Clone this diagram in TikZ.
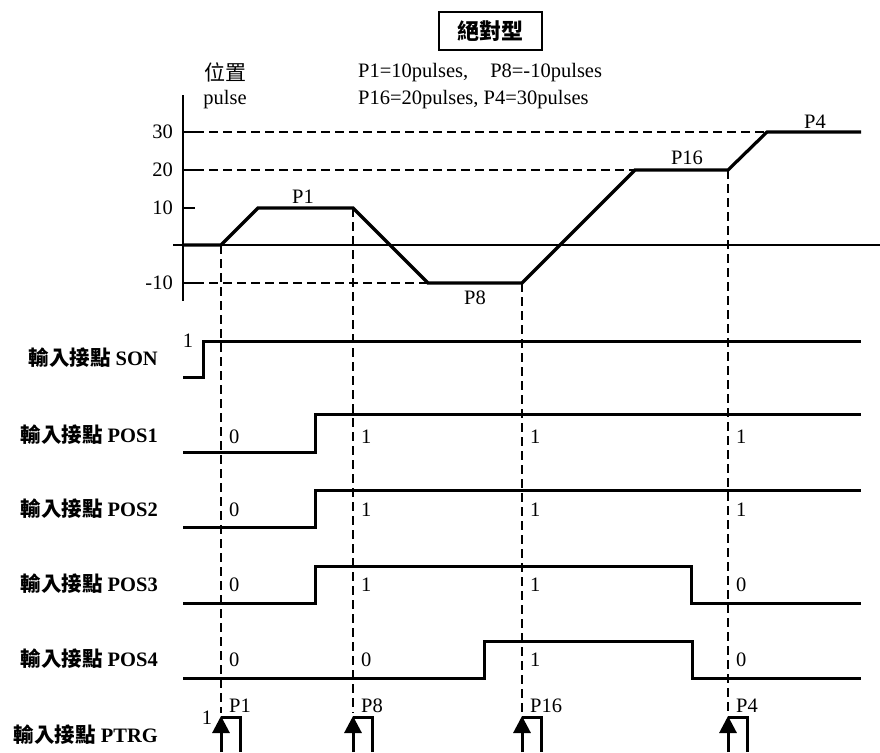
\documentclass[tikz,border=0pt]{standalone}
\usepackage{fontspec}
\setmainfont{Liberation Serif}
\newfontfamily\cjk{Noto Sans CJK TC}
\usetikzlibrary{arrows.meta}
\begin{document}
\begin{tikzpicture}[x=1pt,y=-1pt,
  txt/.style={inner sep=0pt,font=\fontsize{20.5}{23}\selectfont},
  cjktxt/.style={inner sep=0pt,font=\cjk\fontsize{21}{23}\selectfont},
  rowlbl/.style={inner sep=0pt,anchor=east,font=\fontsize{20.5}{23}\selectfont\bfseries},
  val/.style={inner sep=0pt,anchor=west,font=\fontsize{20.5}{23}\selectfont},
  sig/.style={line width=3pt,line join=miter},
  prof/.style={line width=3.2pt,line join=miter},
  axisline/.style={line width=2.2pt},
  zeroline/.style={line width=1.6pt},
  guide/.style={line width=1.6pt,dash pattern=on 9pt off 5pt},
  trig/.style={line width=3pt,-{Triangle[length=17pt,width=17pt]}},
]
\useasboundingbox (0,0) rectangle (880,752);
% title
\node[draw,line width=2pt,minimum width=103pt,minimum height=38pt,inner sep=0pt,font=\cjk\bfseries\fontsize{22}{24}\selectfont] (title) at (490.5,31) {絕對型};
% axis labels
\node[cjktxt] (wz) at (225,72) {位置};
\node[txt] (pulse) at (225,100) {pulse};
\node[txt,anchor=west] (info1) at (358,73) {P1=10pulses,\hspace{22pt}P8=-10pulses};
\node[txt,anchor=west] (info2) at (358,100) {P16=20pulses, P4=30pulses};
% axes
\coordinate (ytop) at (183,95);
\coordinate (ybot) at (183,301);
\draw[axisline] (ytop) -- (ybot);
\coordinate (z0) at (173,245);
\coordinate (z1) at (880,245);
\draw[zeroline] (z0) -- (z1);
% tick labels
\node[txt,anchor=east] (t30) at (173,132) {30};
\node[txt,anchor=east] (t20) at (173,170) {20};
\node[txt,anchor=east] (t10) at (173,208) {10};
\node[txt,anchor=east] (tm10) at (173,283) {-10};
\foreach \yy in {132,170,208,283} \draw[axisline] (183,\yy) -- (195,\yy);
% profile points
\coordinate (a0) at (183,245);
\coordinate (a1) at (221,245);
\coordinate (a2) at (258,208);
\coordinate (a3) at (353,208);
\coordinate (a4) at (428,283);
\coordinate (a5) at (522,283);
\coordinate (a6) at (635,170);
\coordinate (a7) at (728,170);
\coordinate (a8) at (767,132);
\coordinate (a9) at (861,132);
\draw[guide] (195,132) -- (a8);
\draw[guide] (195,170) -- (a6);
\draw[guide] (195,283) -- (a4);
\draw[prof] (a0) -- (a1) -- (a2) -- (a3) -- (a4) -- (a5) -- (a6) -- (a7) -- (a8) -- (a9);
\node[txt] (pp1) at (303,197) {P1};
\node[txt] (pp8) at (475,298) {P8};
\node[txt] (pp16) at (687,158) {P16};
\node[txt] (pp4) at (815,122) {P4};
% vertical guides
\coordinate (g1) at (221,713);
\coordinate (g2) at (353,713);
\coordinate (g3) at (522,713);
\coordinate (g4) at (728,713);
\draw[guide] (a1) -- (g1);
\draw[guide] (a3) -- (g2);
\draw[guide] (a5) -- (g3);
\draw[guide] (a7) -- (g4);
% SON
\node[rowlbl] (lson) at (158,358) {{\cjk 輸入接點} SON};
\draw[sig] (183,377) -- (203,377) -- (203,341) -- (861,341);
\node[txt] (son1) at (188,341) {1};
% POS1
\node[rowlbl] (lp1) at (158,435) {{\cjk 輸入接點} POS1};
\draw[sig] (183,452) -- (315,452) -- (315,414) -- (861,414);
\node[val] (v11) at (229,437) {0};
\node[val] (v12) at (361,437) {1};
\node[val] (v13) at (530,437) {1};
\node[val] (v14) at (736,437) {1};
% POS2
\node[rowlbl] (lp2) at (158,509) {{\cjk 輸入接點} POS2};
\draw[sig] (183,527) -- (315,527) -- (315,490) -- (861,490);
\node[val] (v21) at (229,510) {0};
\node[val] (v22) at (361,510) {1};
\node[val] (v23) at (530,510) {1};
\node[val] (v24) at (736,510) {1};
% POS3
\node[rowlbl] (lp3) at (158,584) {{\cjk 輸入接點} POS3};
\draw[sig] (183,603) -- (315,603) -- (315,566) -- (691,566) -- (691,603) -- (861,603);
\node[val] (v31) at (229,585) {0};
\node[val] (v32) at (361,585) {1};
\node[val] (v33) at (530,585) {1};
\node[val] (v34) at (736,585) {0};
% POS4
\node[rowlbl] (lp4) at (158,659) {{\cjk 輸入接點} POS4};
\draw[sig] (183,678) -- (484,678) -- (484,641) -- (692,641) -- (692,678) -- (861,678);
\node[val] (v41) at (229,660) {0};
\node[val] (v42) at (361,660) {0};
\node[val] (v43) at (530,660) {1};
\node[val] (v44) at (736,660) {0};
% PTRG
\node[rowlbl] (lpt) at (158,735) {{\cjk 輸入接點} PTRG};
\node[txt] (pt1) at (207,718) {1};
\foreach \xx/\nm in {221/P1,353/P8,522/P16,728/P4}{
  \draw[trig] (\xx,752) -- (\xx,716);
  \draw[sig] (\xx,717) -- (\xx+19,717) -- (\xx+19,752);
  \node[val] at (\xx+8,706) {\nm};
}
\end{tikzpicture}
\end{document}
